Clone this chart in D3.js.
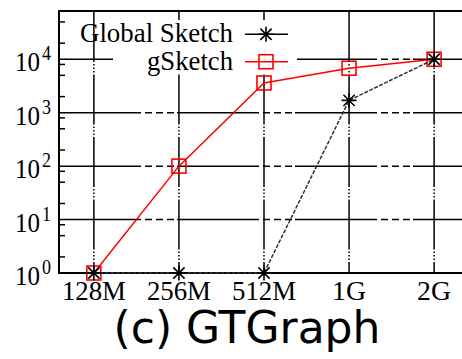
<!DOCTYPE html>
<html>
<head>
<meta charset="utf-8">
<script src="https://cdn.jsdelivr.net/npm/d3@7"></script>
</head>
<body style="margin:0">
<svg id="chart" width="462" height="359"></svg>
<script>
// Memory budgets on the x axis
const categories = ["128M", "256M", "512M", "1G", "2G"];
// Series values (log-scale y)
const globalSketch = [1, 1, 1, 1700, 10000];
const gSketch = [1, 100, 3600, 6800, 10000];
// Y tick decades (exponents of 10)
const yExponents = [0, 1, 2, 3, 4];
// Minor tick multipliers within each decade
const minorMultipliers = [2, 5, 8];
const seriesNames = ["Global Sketch", "gSketch"];
const titleText = "(c) GTGraph";

const SERIF = '"Liberation Serif", "Times New Roman", Tinos, FreeSerif, serif';
const SANS = '"DejaVu Sans", sans-serif';

const svg = d3.select("#chart");
const plotLeft = 59, plotRight = 469, plotTop = 11, plotBottom = 273;

const x = d3.scaleLinear().domain([-0.41, 4.41]).range([plotLeft, plotRight]);
const y = d3.scaleLog().domain([1, 80000]).range([plotBottom, plotTop]);

// Fit a label to a set width so the narrow serif proportions hold
function fitted(sel, width) {
  return sel.attr("textLength", width).attr("lengthAdjust", "spacingAndGlyphs");
}

// Key box bounds (opaque area that hides grid lines)
const keyBox = { x0: 113, x1: 297, y0: 20, y1: 73 };

// Horizontal grid lines at each decade
const grid = svg.append("g").attr("stroke", "#000").attr("stroke-width", 1.5).attr("fill", "none");
yExponents.slice(1).forEach(e => {
  const yy = y(Math.pow(10, e));
  grid.append("line")
    .attr("x1", plotLeft).attr("x2", plotRight).attr("y1", yy).attr("y2", yy)
    .attr("stroke-dasharray", "82,4,7,4,7,4,7,3");
});
// Vertical grid lines at each category, drawn bottom to top
categories.forEach((c, i) => {
  const xx = x(i);
  grid.append("line")
    .attr("x1", xx).attr("x2", xx).attr("y1", plotBottom).attr("y2", plotTop)
    .attr("stroke-dasharray", "50,2,1.5,2,1.5,2,1.5,2")
    .attr("stroke-dashoffset", 39);
});

// Opaque key background
svg.append("rect")
  .attr("x", keyBox.x0).attr("y", keyBox.y0)
  .attr("width", keyBox.x1 - keyBox.x0).attr("height", keyBox.y1 - keyBox.y0)
  .attr("fill", "#fff");

// Frame
const frame = svg.append("g").attr("stroke", "#000").attr("stroke-width", 2).attr("fill", "none");
frame.append("path").attr("d", `M${plotRight},${plotTop}H${plotLeft}V${plotBottom}H${plotRight}`);

// Minor y ticks
const minor = svg.append("g").attr("stroke", "#000").attr("stroke-width", 1.5);
for (let e = 0; e <= 4; e++) {
  minorMultipliers.forEach(m => {
    const v = m * Math.pow(10, e);
    if (v > y.domain()[1]) return;
    const yy = y(v);
    minor.append("line").attr("x1", plotLeft).attr("x2", plotLeft + 6).attr("y1", yy).attr("y2", yy);
  });
}

// Y tick labels: 10 with superscript exponent
yExponents.forEach(e => {
  const yy = y(Math.pow(10, e));
  fitted(svg.append("text")
    .attr("x", 15).attr("y", yy + 12)
    .attr("font-size", 28)
    .style("font-family", SERIF)
    .text("10"), 25);
  fitted(svg.append("text")
    .attr("x", 42).attr("y", yy + 1)
    .attr("font-size", 22)
    .style("font-family", SERIF)
    .text(String(e)), 9);
});

// X tick labels
const xLabelWidths = [64, 64, 64, 34, 34];
categories.forEach((c, i) => {
  const w = xLabelWidths[i];
  fitted(svg.append("text")
    .attr("x", x(i) - w / 2).attr("y", 300)
    .attr("font-size", 28)
    .style("font-family", SERIF)
    .text(c), w);
});

// Marker shapes
function star(g, cx, cy, r, color) {
  const d = `M${cx - r},${cy}H${cx + r}M${cx},${cy - r}V${cy + r}` +
            `M${cx - r * 0.75},${cy - r * 0.75}L${cx + r * 0.75},${cy + r * 0.75}` +
            `M${cx - r * 0.75},${cy + r * 0.75}L${cx + r * 0.75},${cy - r * 0.75}`;
  g.append("path").attr("d", d).attr("stroke", color).attr("stroke-width", 1.6).attr("fill", "none");
}
function square(g, cx, cy, r, color) {
  g.append("rect").attr("x", cx - r).attr("y", cy - r).attr("width", 2 * r).attr("height", 2 * r)
    .attr("stroke", color).attr("stroke-width", 1.6).attr("fill", "none");
}

const line = d3.line().x((d, i) => x(i)).y(d => y(d));

// gSketch series
const gS = svg.append("g");
gS.append("path").datum(gSketch).attr("d", line)
  .attr("fill", "none").attr("stroke", "#ff0000").attr("stroke-width", 1.5);
gSketch.forEach((v, i) => square(gS, x(i), y(v), 7, "#ff0000"));

// Global Sketch series
const gl = svg.append("g");
gl.append("path").datum(globalSketch).attr("d", line)
  .attr("fill", "none").attr("stroke", "#333").attr("stroke-width", 1.5)
  .attr("stroke-dasharray", "4,1.5");
globalSketch.forEach((v, i) => star(gl, x(i), y(v), 7.5, "#000"));

// Legend
const legend = svg.append("g");
const rows = [34.3, 61.7];
const legendWidths = [153, 86];
seriesNames.forEach((name, k) => {
  fitted(svg.append("text").attr("x", 233 - legendWidths[k]).attr("y", rows[k] + 8)
    .attr("font-size", 28)
    .style("font-family", SERIF)
    .text(name), legendWidths[k]);
});
legend.append("line").attr("x1", 245).attr("x2", 288).attr("y1", rows[0]).attr("y2", rows[0])
  .attr("stroke", "#000").attr("stroke-width", 1.5);
star(legend, 266, rows[0], 7.5, "#000");
legend.append("line").attr("x1", 245).attr("x2", 288).attr("y1", rows[1]).attr("y2", rows[1])
  .attr("stroke", "#ff0000").attr("stroke-width", 1.5);
square(legend, 266, rows[1], 7, "#ff0000");

// Caption
svg.append("text")
  .attr("x", 247).attr("y", 343)
  .attr("text-anchor", "middle")
  .attr("font-size", 44)
  .style("font-family", SANS)
  .text(titleText);
</script>
</body>
</html>
